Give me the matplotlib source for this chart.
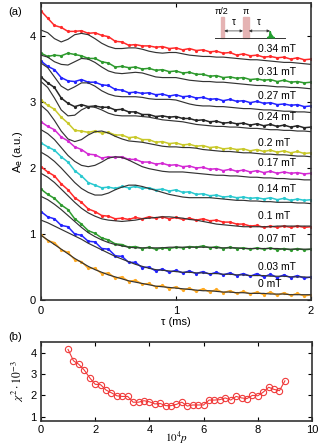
import numpy as np
import matplotlib
matplotlib.use("Agg")
import matplotlib.pyplot as plt
from matplotlib.patches import Rectangle, Polygon

plt.rcParams['font.family'] = ['Liberation Sans', 'DejaVu Sans']

# ---------------- data: panel (a) ----------------
tau = np.round(np.arange(41) * 0.05, 2)   # sampling grid (ms)

fields = ["0.34 mT", "0.31 mT", "0.27 mT", "0.24 mT", "0.2 mT", "0.17 mT",
          "0.14 mT", "0.1 mT", "0.07 mT", "0.03 mT", "0 mT"]
colors = ["#ff2a2a", "#2e9a2e", "#2323ff", "#262626", "#c9c92a", "#d42ad4",
          "#2ac9d0", "#ff2a2a", "#2e9a2e", "#2323ff", "#ffaa22"]

d034 = [4.38, 4.27, 4.16, 4.13, 4.07, 4.07, 4.08, 4.04, 4.05, 4.01, 3.99, 3.92, 3.91, 3.86, 3.87, 3.85, 3.85, 3.83, 3.84, 3.81, 3.82, 3.79, 3.81, 3.78, 3.79, 3.76, 3.77, 3.74, 3.75, 3.71, 3.73, 3.70, 3.71, 3.68, 3.69, 3.67, 3.68, 3.65, 3.67, 3.64, 3.65]
d031 = [3.74, 3.69, 3.71, 3.70, 3.74, 3.72, 3.70, 3.66, 3.66, 3.61, 3.59, 3.53, 3.54, 3.52, 3.53, 3.50, 3.51, 3.48, 3.49, 3.46, 3.47, 3.44, 3.45, 3.42, 3.42, 3.39, 3.40, 3.37, 3.38, 3.36, 3.37, 3.34, 3.35, 3.33, 3.34, 3.31, 3.33, 3.30, 3.31, 3.29, 3.30]
d027 = [3.62, 3.54, 3.49, 3.37, 3.32, 3.31, 3.34, 3.30, 3.30, 3.26, 3.25, 3.19, 3.18, 3.14, 3.15, 3.13, 3.14, 3.11, 3.12, 3.09, 3.11, 3.08, 3.09, 3.06, 3.07, 3.04, 3.05, 3.02, 3.04, 3.01, 3.02, 2.99, 3.01, 2.98, 2.99, 2.96, 2.97, 2.95, 2.96, 2.93, 2.94]
d024 = [3.38, 3.29, 3.22, 3.06, 2.98, 2.93, 2.96, 2.93, 2.94, 2.92, 2.92, 2.88, 2.89, 2.85, 2.85, 2.81, 2.81, 2.78, 2.79, 2.77, 2.78, 2.75, 2.75, 2.72, 2.73, 2.70, 2.71, 2.68, 2.69, 2.67, 2.68, 2.65, 2.67, 2.64, 2.66, 2.63, 2.65, 2.62, 2.64, 2.61, 2.62]
d020 = [3.03, 2.95, 2.89, 2.77, 2.68, 2.57, 2.56, 2.54, 2.56, 2.53, 2.54, 2.50, 2.50, 2.46, 2.47, 2.43, 2.43, 2.39, 2.40, 2.37, 2.38, 2.35, 2.36, 2.33, 2.34, 2.31, 2.32, 2.29, 2.30, 2.28, 2.29, 2.26, 2.28, 2.25, 2.27, 2.24, 2.26, 2.23, 2.25, 2.22, 2.23]
d017 = [2.70, 2.63, 2.58, 2.47, 2.41, 2.32, 2.28, 2.21, 2.20, 2.15, 2.17, 2.16, 2.17, 2.13, 2.13, 2.09, 2.09, 2.06, 2.07, 2.04, 2.05, 2.02, 2.03, 2.00, 2.01, 1.98, 1.99, 1.96, 1.98, 1.95, 1.97, 1.94, 1.96, 1.93, 1.95, 1.92, 1.94, 1.92, 1.93, 1.91, 1.92]
d014 = [2.38, 2.32, 2.27, 2.17, 2.09, 1.96, 1.88, 1.78, 1.74, 1.70, 1.71, 1.69, 1.72, 1.70, 1.72, 1.69, 1.70, 1.67, 1.68, 1.65, 1.67, 1.63, 1.64, 1.60, 1.61, 1.58, 1.59, 1.56, 1.57, 1.55, 1.56, 1.54, 1.55, 1.53, 1.55, 1.52, 1.54, 1.51, 1.53, 1.51, 1.52]
d010 = [2.02, 1.94, 1.88, 1.76, 1.67, 1.55, 1.48, 1.38, 1.34, 1.28, 1.27, 1.23, 1.24, 1.22, 1.25, 1.23, 1.26, 1.24, 1.26, 1.23, 1.25, 1.22, 1.24, 1.21, 1.23, 1.20, 1.21, 1.18, 1.18, 1.15, 1.15, 1.12, 1.13, 1.10, 1.12, 1.10, 1.12, 1.10, 1.12, 1.10, 1.11]
d007 = [1.68, 1.60, 1.54, 1.44, 1.37, 1.23, 1.15, 1.05, 1.01, 0.94, 0.91, 0.85, 0.84, 0.80, 0.81, 0.78, 0.80, 0.77, 0.79, 0.78, 0.80, 0.79, 0.81, 0.80, 0.82, 0.79, 0.81, 0.78, 0.80, 0.78, 0.79, 0.77, 0.79, 0.77, 0.79, 0.76, 0.78, 0.76, 0.78, 0.76, 0.77]
d003 = [1.34, 1.26, 1.23, 1.13, 1.11, 1.00, 0.98, 0.89, 0.88, 0.78, 0.77, 0.67, 0.66, 0.57, 0.57, 0.49, 0.50, 0.44, 0.47, 0.42, 0.45, 0.41, 0.44, 0.40, 0.43, 0.39, 0.42, 0.38, 0.41, 0.37, 0.40, 0.36, 0.40, 0.35, 0.39, 0.34, 0.38, 0.34, 0.37, 0.33, 0.35]
d000 = [0.99, 0.90, 0.87, 0.76, 0.72, 0.61, 0.58, 0.48, 0.48, 0.40, 0.41, 0.33, 0.35, 0.28, 0.30, 0.24, 0.25, 0.20, 0.22, 0.17, 0.20, 0.15, 0.18, 0.13, 0.17, 0.12, 0.16, 0.11, 0.14, 0.10, 0.13, 0.09, 0.12, 0.08, 0.12, 0.07, 0.11, 0.07, 0.10, 0.06, 0.08]

m034 = [4.09, 4.05, 3.96, 3.91, 3.95, 4.02, 4.04, 4.02, 3.96, 3.89, 3.84, 3.81, 3.81, 3.82, 3.82, 3.80, 3.77, 3.75, 3.74, 3.75, 3.75, 3.73, 3.71, 3.70, 3.69, 3.69, 3.68, 3.68, 3.67, 3.66, 3.65, 3.64, 3.64, 3.63, 3.62, 3.61, 3.60, 3.60, 3.59, 3.58, 3.57]
m031 = [3.71, 3.68, 3.61, 3.57, 3.56, 3.61, 3.66, 3.65, 3.60, 3.53, 3.47, 3.44, 3.43, 3.44, 3.45, 3.44, 3.41, 3.38, 3.37, 3.37, 3.37, 3.35, 3.33, 3.32, 3.31, 3.31, 3.30, 3.30, 3.29, 3.28, 3.27, 3.26, 3.25, 3.25, 3.24, 3.23, 3.23, 3.22, 3.22, 3.21, 3.20]
m027 = [3.59, 3.52, 3.38, 3.24, 3.18, 3.23, 3.29, 3.29, 3.24, 3.17, 3.12, 3.09, 3.08, 3.08, 3.08, 3.07, 3.05, 3.04, 3.04, 3.04, 3.03, 3.00, 2.97, 2.95, 2.94, 2.94, 2.93, 2.93, 2.92, 2.91, 2.90, 2.90, 2.89, 2.88, 2.88, 2.87, 2.86, 2.86, 2.85, 2.85, 2.84]
m024 = [3.31, 3.22, 3.06, 2.88, 2.79, 2.80, 2.88, 2.93, 2.92, 2.88, 2.83, 2.80, 2.79, 2.79, 2.79, 2.78, 2.77, 2.75, 2.73, 2.72, 2.71, 2.70, 2.68, 2.66, 2.65, 2.64, 2.63, 2.63, 2.62, 2.62, 2.61, 2.60, 2.60, 2.59, 2.58, 2.58, 2.57, 2.57, 2.56, 2.56, 2.55]
m020 = [2.95, 2.86, 2.72, 2.56, 2.44, 2.40, 2.43, 2.50, 2.55, 2.56, 2.53, 2.48, 2.44, 2.41, 2.40, 2.39, 2.37, 2.35, 2.33, 2.32, 2.32, 2.31, 2.31, 2.30, 2.28, 2.27, 2.26, 2.25, 2.25, 2.24, 2.23, 2.23, 2.22, 2.21, 2.21, 2.20, 2.20, 2.19, 2.18, 2.18, 2.17]
m017 = [2.58, 2.52, 2.43, 2.31, 2.19, 2.10, 2.04, 2.02, 2.04, 2.09, 2.15, 2.17, 2.16, 2.12, 2.07, 2.02, 1.99, 1.97, 1.95, 1.94, 1.94, 1.94, 1.93, 1.92, 1.91, 1.90, 1.89, 1.89, 1.88, 1.88, 1.87, 1.86, 1.86, 1.85, 1.85, 1.84, 1.84, 1.83, 1.83, 1.82, 1.82]
m014 = [2.24, 2.18, 2.10, 2.00, 1.89, 1.78, 1.69, 1.63, 1.59, 1.59, 1.62, 1.67, 1.71, 1.74, 1.74, 1.72, 1.69, 1.66, 1.63, 1.60, 1.58, 1.56, 1.55, 1.55, 1.55, 1.55, 1.54, 1.53, 1.52, 1.51, 1.51, 1.50, 1.50, 1.49, 1.49, 1.48, 1.48, 1.48, 1.47, 1.47, 1.46]
m010 = [1.92, 1.86, 1.78, 1.68, 1.58, 1.48, 1.39, 1.32, 1.27, 1.23, 1.21, 1.20, 1.19, 1.20, 1.21, 1.23, 1.24, 1.25, 1.26, 1.26, 1.25, 1.24, 1.22, 1.21, 1.19, 1.17, 1.15, 1.14, 1.13, 1.12, 1.11, 1.11, 1.11, 1.11, 1.11, 1.12, 1.12, 1.12, 1.12, 1.12, 1.12]
m007 = [1.57, 1.52, 1.45, 1.37, 1.28, 1.19, 1.10, 1.02, 0.96, 0.91, 0.87, 0.84, 0.82, 0.80, 0.79, 0.79, 0.79, 0.79, 0.79, 0.80, 0.80, 0.80, 0.80, 0.80, 0.80, 0.80, 0.79, 0.79, 0.79, 0.79, 0.78, 0.78, 0.78, 0.78, 0.78, 0.78, 0.77, 0.77, 0.77, 0.77, 0.77]
m003 = [1.21, 1.17, 1.12, 1.07, 1.02, 0.97, 0.92, 0.86, 0.81, 0.76, 0.71, 0.66, 0.62, 0.58, 0.54, 0.51, 0.48, 0.46, 0.45, 0.44, 0.43, 0.42, 0.42, 0.41, 0.41, 0.40, 0.40, 0.39, 0.39, 0.38, 0.38, 0.37, 0.37, 0.37, 0.36, 0.36, 0.36, 0.35, 0.35, 0.35, 0.34]
m000 = [0.98, 0.91, 0.84, 0.77, 0.70, 0.63, 0.57, 0.51, 0.46, 0.42, 0.38, 0.35, 0.32, 0.29, 0.27, 0.25, 0.23, 0.21, 0.20, 0.19, 0.18, 0.17, 0.16, 0.15, 0.14, 0.14, 0.13, 0.12, 0.12, 0.11, 0.11, 0.10, 0.10, 0.10, 0.09, 0.09, 0.09, 0.08, 0.08, 0.08, 0.08]

data = [d034, d031, d027, d024, d020, d017, d014, d010, d007, d003, d000]
models = [m034, m031, m027, m024, m020, m017, m014, m010, m007, m003, m000]

# ---------------- data: panel (b) ----------------
p_vals = [1.0, 1.2, 1.4, 1.6, 1.8, 2.0, 2.2, 2.4, 2.6, 2.8, 3.0, 3.2, 3.4, 3.6, 3.8, 4.0,
          4.2, 4.4, 4.6, 4.8, 5.0, 5.2, 5.4, 5.6, 5.8, 6.0, 6.2, 6.4, 6.6, 6.8, 7.0, 7.2,
          7.4, 7.6, 7.8, 8.0, 8.2, 8.4, 8.6, 8.8, 9.0]
chi2 = [4.15, 3.62, 3.45, 3.18, 2.82, 2.52, 2.50, 2.25, 2.12, 1.98, 1.95, 1.95, 1.68, 1.68,
        1.75, 1.70, 1.60, 1.62, 1.52, 1.52, 1.58, 1.68, 1.50, 1.55, 1.55, 1.55, 1.78, 1.78,
        1.80, 1.88, 1.78, 1.95, 1.88, 1.85, 2.00, 1.98, 2.15, 2.38, 2.28, 2.22, 2.68]

# ---------------- figure ----------------
fig = plt.figure(figsize=(3.2, 4.48), dpi=100)
ax = fig.add_axes([0.128, 0.3304, 0.8438, 0.6629])

for d, m, c in zip(data, models, colors):
    ax.plot(tau, d, '-', color=c, lw=1.1, zorder=2)
    ax.plot(tau, d, 'o', color=c, ms=2.3, mew=0, zorder=2)
for m in models:
    ax.plot(tau, m, '-', color='#333333', lw=0.85, zorder=3)

for lab, d in zip(fields, data):
    ax.text(1.61, d[-1] + 0.155, lab, fontsize=7.5, ha='left', va='center', zorder=4)

ax.set_xlim(0, 2)
ax.set_ylim(0, 4.5)
ax.set_xticks([0, 1, 2])
ax.set_yticks([0, 1, 2, 3, 4])
ax.tick_params(direction='in', top=True, right=True, labelsize=8, length=3, width=0.8, pad=4)
for s in ax.spines.values():
    s.set_linewidth(1.2)
    s.set_color('#333333')
ax.set_xlabel("τ (ms)", fontsize=8, labelpad=1)
ax.set_ylabel(r"A$_\mathrm{e}$ (a.u.)", fontsize=8, labelpad=3)

# pulse-sequence inset (axes fraction coords)
T = ax.transAxes
base_y = 0.883
ax.plot([0.644, 0.904], [base_y, base_y], color='#333333', lw=0.7, transform=T, zorder=4)
ax.add_patch(Rectangle((0.667, base_y), 0.012, 0.07, transform=T, color='#e5b3b3', zorder=3))
ax.add_patch(Rectangle((0.748, base_y), 0.022, 0.07, transform=T, color='#e5b3b3', zorder=3))
ax.add_patch(Polygon([[0.838, base_y], [0.846, base_y + 0.004], [0.849, base_y + 0.022],
                      [0.852, base_y + 0.012], [0.860, base_y + 0.002], [0.866, base_y]],
                     closed=True, transform=T, color='#22a030', zorder=4))
for x0, x1 in [(0.679, 0.748), (0.770, 0.848)]:
    ax.annotate('', xy=(x0, 0.906), xytext=(x1, 0.906), xycoords=T, textcoords=T,
                arrowprops=dict(arrowstyle='<|-|>', lw=0.5, color='#333333',
                                mutation_scale=4, shrinkA=0, shrinkB=0), zorder=4)
ax.text(0.713, 0.935, "τ", transform=T, fontsize=7, ha='center', va='center')
ax.text(0.808, 0.935, "τ", transform=T, fontsize=7, ha='center', va='center')
ax.text(0.668, 0.972, "π/2", transform=T, fontsize=6.5, ha='center', va='center')
ax.text(0.759, 0.972, "π", transform=T, fontsize=6.5, ha='center', va='center')

fig.text(0.025, 0.973, "(a)", fontsize=8, ha='left', va='center')

# ---------------- panel (b) ----------------
bx = fig.add_axes([0.128, 0.0603, 0.847, 0.1763])
bx.plot(p_vals, chi2, '-', color='#f03a3a', lw=0.8)
bx.plot(p_vals, chi2, 'o', mfc='none', mec='#f03a3a', ms=4.5, mew=0.8)
bx.set_xlim(0, 10)
bx.set_ylim(0.8, 4.5)
bx.set_xticks([0, 2, 4, 6, 8, 10])
bx.set_yticks([1, 2, 3, 4])
bx.tick_params(direction='in', top=True, right=True, labelsize=8, length=3, width=0.8, pad=3)
for s in bx.spines.values():
    s.set_linewidth(1.2)
    s.set_color('#333333')
bx.set_xlabel(r"$10^4p$", fontsize=8, math_fontfamily='stix', va='center')
bx.xaxis.set_label_coords(0.5, -0.215)
bx.set_ylabel(r"$\chi^2\cdot 10^{-3}$", fontsize=8.5, math_fontfamily='stix', labelpad=3)
fig.text(0.025, 0.247, "(b)", fontsize=8, ha='left', va='center')

fig.savefig("out.png", dpi=100)
